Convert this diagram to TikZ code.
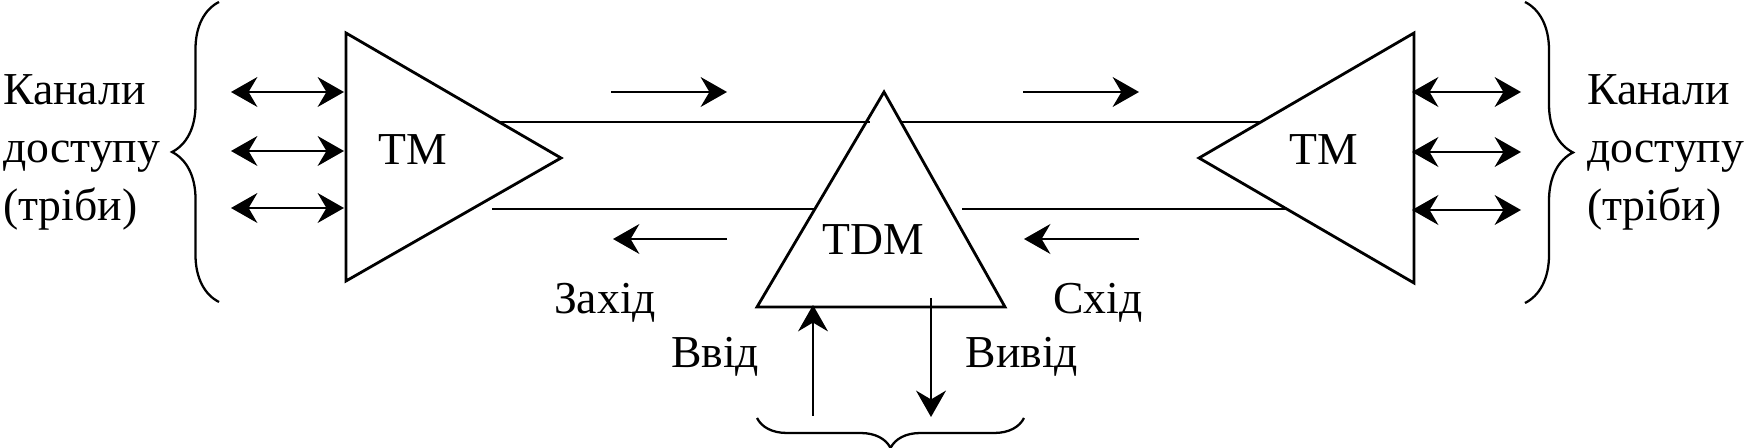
\documentclass[tikz,border=0pt]{standalone}
\usepackage{fontspec}
\setmainfont{Liberation Serif}
\usetikzlibrary{arrows.meta,decorations.pathreplacing}

\begin{document}
\begin{tikzpicture}[x=0.02cm, y=-0.02cm, line width=1.3pt,
		tip/.style={-{Stealth[length=15pt,width=17pt,inset=5pt]}},
		dtip/.style={{Stealth[length=15pt,width=17pt,inset=5pt]}-{Stealth[length=15pt,width=17pt,inset=5pt]}},
		txt/.style={font=\fontsize{26}{33}\selectfont, inner sep=0pt},
		brc/.style={decorate, decoration={brace, amplitude=#1}}]
		\useasboundingbox (0,0) rectangle (1750,448);

		% multiplexers (pixel coordinates, y pointing down)
		\coordinate (tmLa) at (346,33);  \coordinate (tmLb) at (346,281);  \coordinate (tmLtip) at (561,158);
		\coordinate (tmRa) at (1414,33); \coordinate (tmRb) at (1414,283); \coordinate (tmRtip) at (1199,158);
		\coordinate (admTop) at (884,92); \coordinate (admL) at (757,307); \coordinate (admR) at (1005,307);
		\draw [line width=1.6pt] (tmLa) -- (tmLtip) -- (tmLb) -- cycle;
		\draw [line width=1.6pt] (tmRa) -- (tmRtip) -- (tmRb) -- cycle;
		\draw [line width=1.6pt] (admTop) -- (admR) -- (admL) -- cycle;
		\node [txt] (tmL) at (413,150) {TM};
		\node [txt] (tmR) at (1324,150) {TM};
		\node [txt] (tdm) at (873,240) {TDM};

		% line between the terminals
		\coordinate (upA) at (499,122); \coordinate (upB) at (870,122);
		\coordinate (upC) at (901,122); \coordinate (upD) at (1261,122);
		\coordinate (loA) at (492,209); \coordinate (loB) at (815,209);
		\coordinate (loC) at (962,209); \coordinate (loD) at (1287,209);
		\draw (upA) -- (upB);  \draw (upC) -- (upD);
		\draw (loA) -- (loB);  \draw (loC) -- (loD);

		% directions
		\coordinate (e1) at (611,92);  \coordinate (e2) at (727,92);
		\coordinate (e3) at (1023,92); \coordinate (e4) at (1139,92);
		\coordinate (w1) at (727,239); \coordinate (w2) at (613,239);
		\coordinate (w3) at (1139,239); \coordinate (w4) at (1024,239);
		\draw [tip] (e1) -- (e2);  \draw [tip] (e3) -- (e4);
		\draw [tip] (w1) -- (w2);  \draw [tip] (w3) -- (w4);

		% access channels
		\foreach \y [count=\i] in {92,151,208} {
			\coordinate (chLa\i) at (231,\y); \coordinate (chLb\i) at (344,\y);
			\draw [dtip] (chLa\i) -- (chLb\i);
		}
		\foreach \y [count=\i] in {92,152,210} {
			\coordinate (chRa\i) at (1412,\y); \coordinate (chRb\i) at (1521,\y);
			\draw [dtip] (chRa\i) -- (chRb\i);
		}

		% add / drop
		\coordinate (inA) at (813,416);  \coordinate (inB) at (813,305);
		\coordinate (outA) at (931,298); \coordinate (outB) at (931,417);
		\draw [tip] (inA) -- (inB);
		\draw [tip] (outA) -- (outB);

		% braces
		\coordinate (bLa) at (219,302);  \coordinate (bLb) at (219,2);
		\coordinate (bRa) at (1525,2);   \coordinate (bRb) at (1525,303);
		\coordinate (bDa) at (1024,418); \coordinate (bDb) at (757,418);
		\draw [brc=0.94cm] (bLa) -- (bLb);
		\draw [brc=0.96cm] (bRa) -- (bRb);
		\draw [brc=0.6cm] (bDa) -- (bDb);

		\node [txt, anchor=west, align=left] (chL) at (2,152) {Канали\\доступу\\(тріби)};
		\node [txt, anchor=west, align=left] (chR) at (1586,152) {Канали\\доступу\\(тріби)};
		\node [txt] (west) at (605,303) {Захід};
		\node [txt] (east) at (1098,303) {Схід};
		\node [txt] (addIn) at (715,357) {Ввід};
		\node [txt] (dropOut) at (1022,357) {Вивід};
	\end{tikzpicture}
\end{document}
